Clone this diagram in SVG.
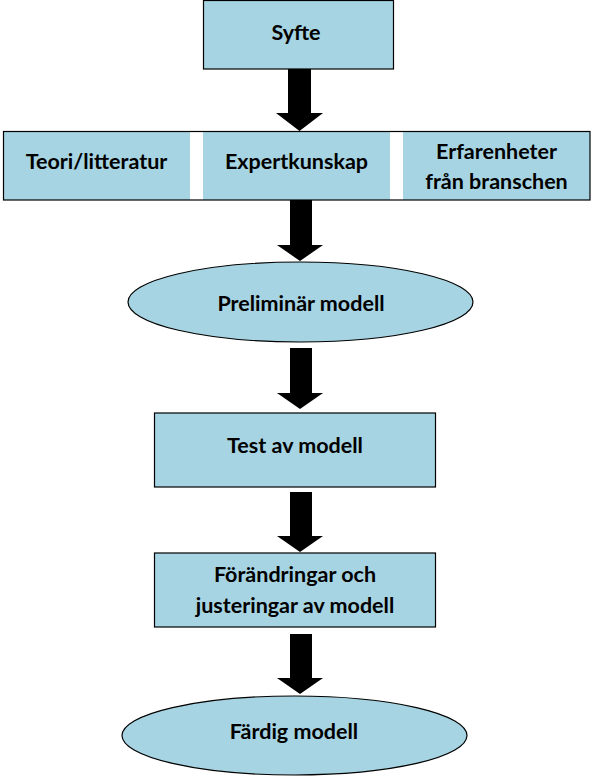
<svg xmlns="http://www.w3.org/2000/svg" width="595" height="780" viewBox="0 0 595 780">
<style>
.box{fill:#A6D4E2;stroke:#000;stroke-width:1.2}
.fill{fill:#A6D4E2}
.edge{fill:none;stroke:#000;stroke-width:1.2}
.lbl{font-family:Lato,"Liberation Sans",sans-serif;font-weight:bold;font-size:21.5px;fill:#000;text-anchor:middle}
.arr{fill:#000}
</style>
<rect width="595" height="780" fill="#fff"/>
<g id="connectors">
<polygon class="arr" points="288,69 311,69 311,113 323,113 299.5,131 276,113 288,113"/>
<polygon class="arr" points="290,200 312,200 312,245 323,245 300,261 277,245 290,245"/>
<polygon class="arr" points="290,348 312,348 312,393 323,393 300,409 277,393 290,393"/>
<polygon class="arr" points="290,492 312,492 312,536 323,536 300,552 277,536 290,536"/>
<polygon class="arr" points="290,634 312,634 312,678 323,678 300,694 277,678 290,678"/>
</g>
<g id="syfte">
<rect class="box" x="203.5" y="0.5" width="190" height="68.5"/>
<text class="lbl" x="296" y="40">Syfte</text>
</g>
<g id="inputs">
<rect class="fill" x="3.5" y="131.5" width="186.5" height="68.5"/>
<rect class="fill" x="203" y="131.5" width="187" height="68.5"/>
<rect class="fill" x="403" y="131.5" width="187" height="68.5"/>
<rect class="edge" x="3.5" y="131.5" width="586.5" height="68.5"/>
</g>
<g id="teori">
<text class="lbl" x="96.5" y="169">Teori/litteratur</text>
</g>
<g id="expert">
<text class="lbl" x="296.5" y="169">Expertkunskap</text>
</g>
<g id="erfarenheter">
<text class="lbl" x="496.5" y="159">Erfarenheter</text>
<text class="lbl" x="496.5" y="189">från branschen</text>
</g>
<g id="preliminar">
<ellipse class="box" cx="300.5" cy="302" rx="172.5" ry="40"/>
<text class="lbl" x="301" y="311">Preliminär modell</text>
</g>
<g id="test">
<rect class="box" x="154.5" y="413" width="281" height="74"/>
<text class="lbl" x="295" y="453">Test av modell</text>
</g>
<g id="forandringar">
<rect class="box" x="154.5" y="553" width="281" height="74"/>
<text class="lbl" x="295" y="582">Förändringar och</text>
<text class="lbl" x="295" y="613">justeringar av modell</text>
</g>
<g id="fardig">
<ellipse class="box" cx="294.5" cy="735.5" rx="172.5" ry="39.5"/>
<text class="lbl" x="294" y="739">Färdig modell</text>
</g>
</svg>
